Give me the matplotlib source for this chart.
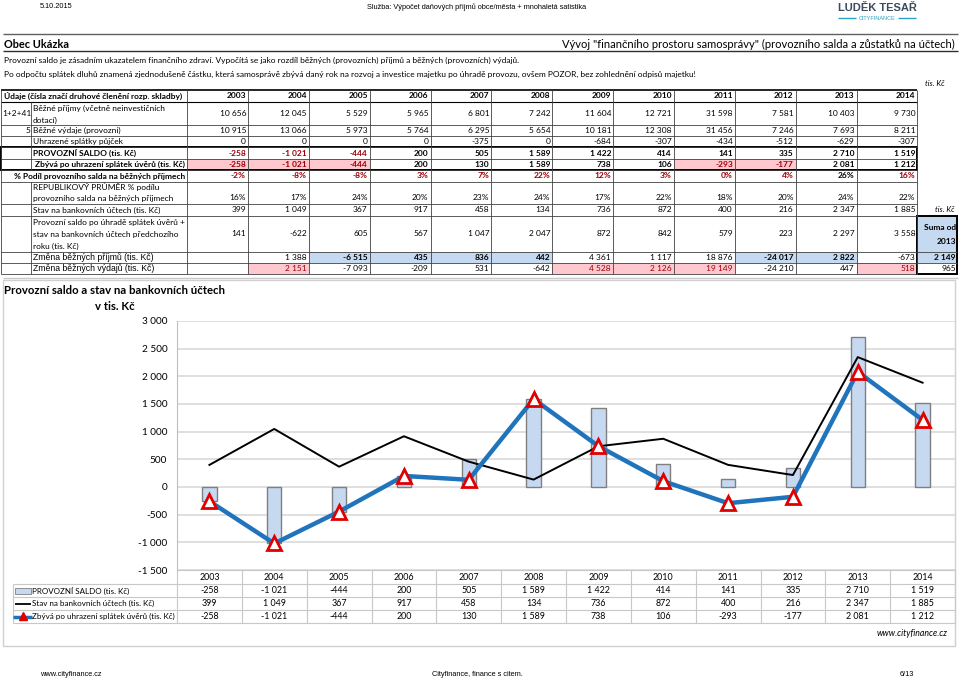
import numpy as np
import matplotlib
matplotlib.use('Agg')
import matplotlib.pyplot as plt
from matplotlib.patches import Rectangle
from matplotlib.transforms import blended_transform_factory

# --- data (tis. Kc) ---
years = [2003, 2004, 2005, 2006, 2007, 2008, 2009, 2010, 2011, 2012, 2013, 2014]
prijmy = [10656, 12045, 5529, 5965, 6801, 7242, 11604, 12721, 31598, 7581, 10403, 9730]
vydaje = [10915, 13066, 5973, 5764, 6295, 5654, 10181, 12308, 31456, 7246, 7693, 8211]
splatky = [0, 0, 0, 0, -375, 0, -684, -307, -434, -512, -629, -307]
saldo = [-258, -1021, -444, 200, 505, 1589, 1422, 414, 141, 335, 2710, 1519]
zbyva = [-258, -1021, -444, 200, 130, 1589, 738, 106, -293, -177, 2081, 1212]
podil = [-2, -8, -8, 3, 7, 22, 12, 3, 0, 4, 26, 16]
prumer = [16, 17, 24, 20, 23, 24, 17, 22, 18, 20, 24, 22]
stav = [399, 1049, 367, 917, 458, 134, 736, 872, 400, 216, 2347, 1885]
po_uhrade = [141, -622, 605, 567, 1047, 2047, 872, 842, 579, 223, 2297, 3558]
zmena_prijmu = [None, 1388, -6515, 435, 836, 442, 4361, 1117, 18876, -24017, 2822, -673]
zmena_vydaju = [None, 2151, -7093, -209, 531, -642, 4528, 2126, 19149, -24210, 447, 518]

BODY = ['Lato', 'DejaVu Sans']
ARIAL = ['Liberation Sans', 'DejaVu Sans']
plt.rcParams['font.family'] = BODY

RED_TXT = '#9c0006'
PINK = '#ffc7ce'
BLUE_BG = '#c5d9f1'
GRID = '#404040'


def fmt(v):
    if v is None:
        return ''
    s = f'{abs(v):,}'.replace(',', '\u00a0')
    return ('-' if v < 0 else '') + s


fig = plt.figure(figsize=(9.6, 6.78), dpi=100)
pg = fig.add_axes([0, 0, 1, 1])
pg.set_xlim(0, 960)
pg.set_ylim(678, 0)
pg.axis('off')


def txt(x, y, s, size=6, **kw):
    kw.setdefault('va', 'center')
    pg.text(x, y, s, fontsize=size, **kw)


def hline(y, x0, x1, c=GRID, lw=0.6):
    pg.plot([x0, x1], [y, y], color=c, lw=lw, solid_capstyle='butt')


def vline(x, y0, y1, c=GRID, lw=0.6):
    pg.plot([x, x], [y0, y1], color=c, lw=lw, solid_capstyle='butt')


def cell(x0, x1, y0, y1, color):
    pg.add_patch(Rectangle((x0, y0), x1 - x0, y1 - y0, facecolor=color, edgecolor='none', zorder=0))


# --- page header ---
txt(40, 7, '5.10.2015', size=5.3, family=ARIAL)
txt(367, 7, 'Služba: Výpočet daňových příjmů obce/města + mnohaletá satistika', size=5.3, family=ARIAL)
txt(877, 8, 'LUDĚK TESAŘ', size=8, family=ARIAL, weight='bold', color='#3b4a5c', ha='center')
txt(877, 18, 'CITYFINANCE', size=4, family=ARIAL, color='#2aa3c8', ha='center')
hline(18, 838, 856, c='#2aa3c8', lw=1)
hline(18, 898, 916, c='#2aa3c8', lw=1)
hline(34, 3, 958, c='#606060', lw=1)

txt(4, 44, 'Obec Ukázka', size=7.9, weight='bold')
txt(955, 44, 'Vývoj "finančního prostoru samosprávy" (provozního salda a zůstatků na účtech)', size=8, ha='right')
hline(51, 3, 958, c='#303030', lw=1)
txt(4, 60, 'Provozní saldo je zásadním ukazatelem finančního zdraví. Vypočítá se jako rozdíl běžných '
    '(provozních) příjmů a běžných (provozních) výdajů.', size=6)
txt(4, 74, 'Po odpočtu splátek dluhů znamená zjednodušeně částku, která samosprávě zbývá daný rok na rozvoj '
    'a investice majetku po úhradě provozu, ovšem POZOR, bez zohlednění odpisů majetku!', size=6)
txt(945, 84, 'tis. Kč', size=5.6, style='italic', ha='right')

# --- table ---
cw = 60.85
col_r = [248 + cw * i for i in range(12)]
col_l = [r - cw for r in col_r]
TR = col_r[-1]
rows = {
    'head': (90, 102), 'prijmy': (102, 125), 'vydaje': (125, 136), 'splatky': (136, 147),
    'saldo': (147, 159), 'zbyva': (159, 170), 'podil': (170, 182), 'prumer': (182, 204),
    'stav': (204, 216), 'po': (216, 252), 'zp': (252, 263), 'zv': (263, 274),
}


def mid(r):
    return sum(rows[r]) / 2


txt(4, mid('head'), 'Údaje (čísla značí druhové členění rozp. skladby)', weight='bold')
for i, y in enumerate(years):
    txt(col_r[i] - 2, mid('head'), str(y), weight='bold', ha='right')

txt(2, mid('prijmy'), '1+2+41')
txt(33, 108, 'Běžné příjmy (včetně neinvestičních')
txt(33, 120, 'dotací)')
txt(30, mid('vydaje'), '5', ha='right')
txt(33, mid('vydaje'), 'Běžné výdaje (provozní)')
txt(33, mid('splatky'), 'Uhrazené splátky půjček')
txt(33, mid('saldo'), 'PROVOZNÍ SALDO (tis. Kč)', weight='bold')
txt(185, mid('zbyva'), 'Zbývá po uhrazení splátek úvěrů (tis. Kč)', weight='bold', ha='right')
txt(185, mid('podil'), '% Podíl provozního salda na běžných příjmech', weight='bold', ha='right')
txt(33, 187, 'REPUBLIKOVÝ PRŮMĚR % podílu')
txt(33, 198, 'provozního salda na běžných příjmech')
txt(33, mid('stav'), 'Stav na bankovních účtech (tis. Kč)')
txt(33, 223, 'Provozní saldo po úhradě splátek úvěrů +')
txt(33, 234, 'stav na bankovních účtech předchozího')
txt(33, 246, 'roku (tis. Kč)')
txt(33, mid('zp'), 'Změna běžných příjmů (tis. Kč)', family=ARIAL, size=6.2)
txt(33, mid('zv'), 'Změna běžných výdajů (tis. Kč)', family=ARIAL, size=6.2)

for i in range(12):
    xr = col_r[i] - 2
    txt(xr, mid('prijmy'), fmt(prijmy[i]), ha='right')
    txt(xr, mid('vydaje'), fmt(vydaje[i]), ha='right')
    txt(xr, mid('splatky'), fmt(splatky[i]), ha='right')
    txt(xr, mid('saldo'), fmt(saldo[i]), ha='right', weight='bold',
        color=RED_TXT if saldo[i] < 0 else 'black')
    if zbyva[i] < 0:
        cell(col_l[i], col_r[i], *rows['zbyva'], PINK)
    txt(xr, mid('zbyva'), fmt(zbyva[i]), ha='right', weight='bold',
        color=RED_TXT if zbyva[i] < 0 else 'black')
    txt(xr, mid('podil'), f'{podil[i]}%', ha='right', weight='bold',
        color=RED_TXT if podil[i] < prumer[i] else 'black')
    txt(xr, 198, f'{prumer[i]}%', ha='right')
    txt(xr, mid('stav'), fmt(stav[i]), ha='right')
    txt(xr, mid('po'), fmt(po_uhrade[i]), ha='right')
    p, v = zmena_prijmu[i], zmena_vydaju[i]
    if p is None:
        continue
    if p > v:
        cell(col_l[i], col_r[i], *rows['zp'], BLUE_BG)
        txt(xr, mid('zp'), fmt(p), ha='right', weight='bold')
        txt(xr, mid('zv'), fmt(v), ha='right')
    else:
        cell(col_l[i], col_r[i], *rows['zv'], PINK)
        txt(xr, mid('zp'), fmt(p), ha='right')
        txt(xr, mid('zv'), fmt(v), ha='right', color=RED_TXT)

# grid of the table
for r, (y0, y1) in rows.items():
    hline(y1, 0.5, TR)
hline(90, 0.5, TR, c='black', lw=1.2)
hline(102, 0.5, TR, c='black', lw=0.8)
vline(0.8, 90, 274)
vline(col_l[0], 90, 274)
for xr in col_r:
    vline(xr, 90, 274)
vline(31, 102, 170)
vline(31, 182, 274)
pg.add_patch(Rectangle((0.8, 147), TR - 0.8, 23, fill=False, edgecolor='black', lw=1.4))

# suma od 2013
suma_p = zmena_prijmu[-2] + zmena_prijmu[-1]
suma_v = zmena_vydaju[-2] + zmena_vydaju[-1]
txt(945, 210, 'tis. Kč', size=5.6, style='italic', ha='center')
cell(TR, 957, 216, 252, BLUE_BG)
txt(956, 228, 'Suma od', weight='bold', ha='right')
txt(956, 242, '2013', weight='bold', ha='right')
if suma_p > suma_v:
    cell(TR, 957, 252, 263, BLUE_BG)
txt(956, mid('zp'), fmt(suma_p), weight='bold', ha='right')
txt(956, mid('zv'), fmt(suma_v), ha='right')
hline(252, TR, 957)
hline(263, TR, 957)
pg.add_patch(Rectangle((TR, 216), 957 - TR, 58, fill=False, edgecolor='black', lw=1.4))

hline(278, 3, 958, c='#c8c8c8', lw=1)

# --- chart ---
pg.add_patch(Rectangle((3, 280), 952, 366, fill=False, edgecolor='#d0d0d0', lw=1))
txt(4, 291, 'Provozní saldo a stav na bankovních účtech', size=8.2, weight='bold')
txt(115, 306, 'v tis. Kč', size=8.2, weight='bold', ha='center')

ax = fig.add_axes([177 / 960, 1 - 570 / 678, (955 - 177) / 960, (570 - 321) / 678])
x = np.arange(len(years))
ax.set_xlim(-0.5, len(years) - 0.5)
ax.set_ylim(-1500, 3000)
ax.set_facecolor('none')
ax.set_yticks(range(-1500, 3001, 500))
ax.set_yticklabels([fmt(v) for v in range(-1500, 3001, 500)], fontsize=7.2)
ax.set_xticks([])
ax.tick_params(axis='y', length=0, pad=7)
for s in ['top', 'right', 'bottom']:
    ax.spines[s].set_visible(False)
ax.spines['left'].set_color('#bfbfbf')
ax.yaxis.grid(True, color='#d9d9d9', lw=1.2)
ax.set_axisbelow(True)

ax.bar(x, saldo, width=0.22, color='#c6d9f1', edgecolor='#7f7f7f', lw=1, zorder=2)
ax.plot(x, stav, color='black', lw=1.4, zorder=3)
ax.plot(x, zbyva, color='#1f74bb', lw=3.2, zorder=4,
        marker='^', markersize=10, markerfacecolor='white', markeredgecolor='#e00000', markeredgewidth=2)

# data table under the chart
bt = blended_transform_factory(ax.transData, pg.transData)
trow = [(570, 584), (584, 597), (597, 610), (610, 623)]
for b in np.arange(-0.5, len(years)):
    pg.plot([b, b], [570, 623], color='#c8c8c8', lw=0.8, transform=bt, clip_on=False)
hline(570, 177, 955, c='#c8c8c8', lw=0.8)
for y0, y1 in trow[1:]:
    hline(y0, 13, 955, c='#c8c8c8', lw=0.8)
hline(623, 13, 955, c='#c8c8c8', lw=0.8)
vline(13, 584, 623, c='#c8c8c8', lw=0.8)

series = [saldo, stav, zbyva]
labels = ['PROVOZNÍ SALDO (tis. Kč)', 'Stav na bankovních účtech (tis. Kč)',
          'Zbývá po uhrazení splátek úvěrů (tis. Kč)']
for i, yr in enumerate(years):
    pg.text(i, 577, str(yr), fontsize=6.4, ha='center', va='center', transform=bt)
    for j, s in enumerate(series):
        yc = sum(trow[j + 1]) / 2
        pg.text(i, yc, fmt(s[i]), fontsize=6.4, ha='center', va='center', transform=bt)
for j, lab in enumerate(labels):
    yc = sum(trow[j + 1]) / 2
    txt(32, yc, lab, size=5.75)
pg.add_patch(Rectangle((15, 588), 16, 6, facecolor='#c6d9f1', edgecolor='#7f7f7f', lw=0.6))
hline(603.5, 15, 31, c='black', lw=1.3)
hline(616.5, 13, 32, c='#1f74bb', lw=2.5)
pg.plot([23], [616], marker='^', markersize=6, color='#e00000', markeredgecolor='#e00000')

txt(948, 634, 'www.cityfinance.cz', size=6.3, style='italic', ha='right')

# --- footer ---
txt(40, 674, 'www.cityfinance.cz', size=5.3, family=ARIAL)
txt(432, 674, 'Cityfinance, finance s citem.', size=5.3, family=ARIAL)
txt(900, 674, '6/13', size=5.3, family=ARIAL)

fig.savefig('out.png', dpi=100)
